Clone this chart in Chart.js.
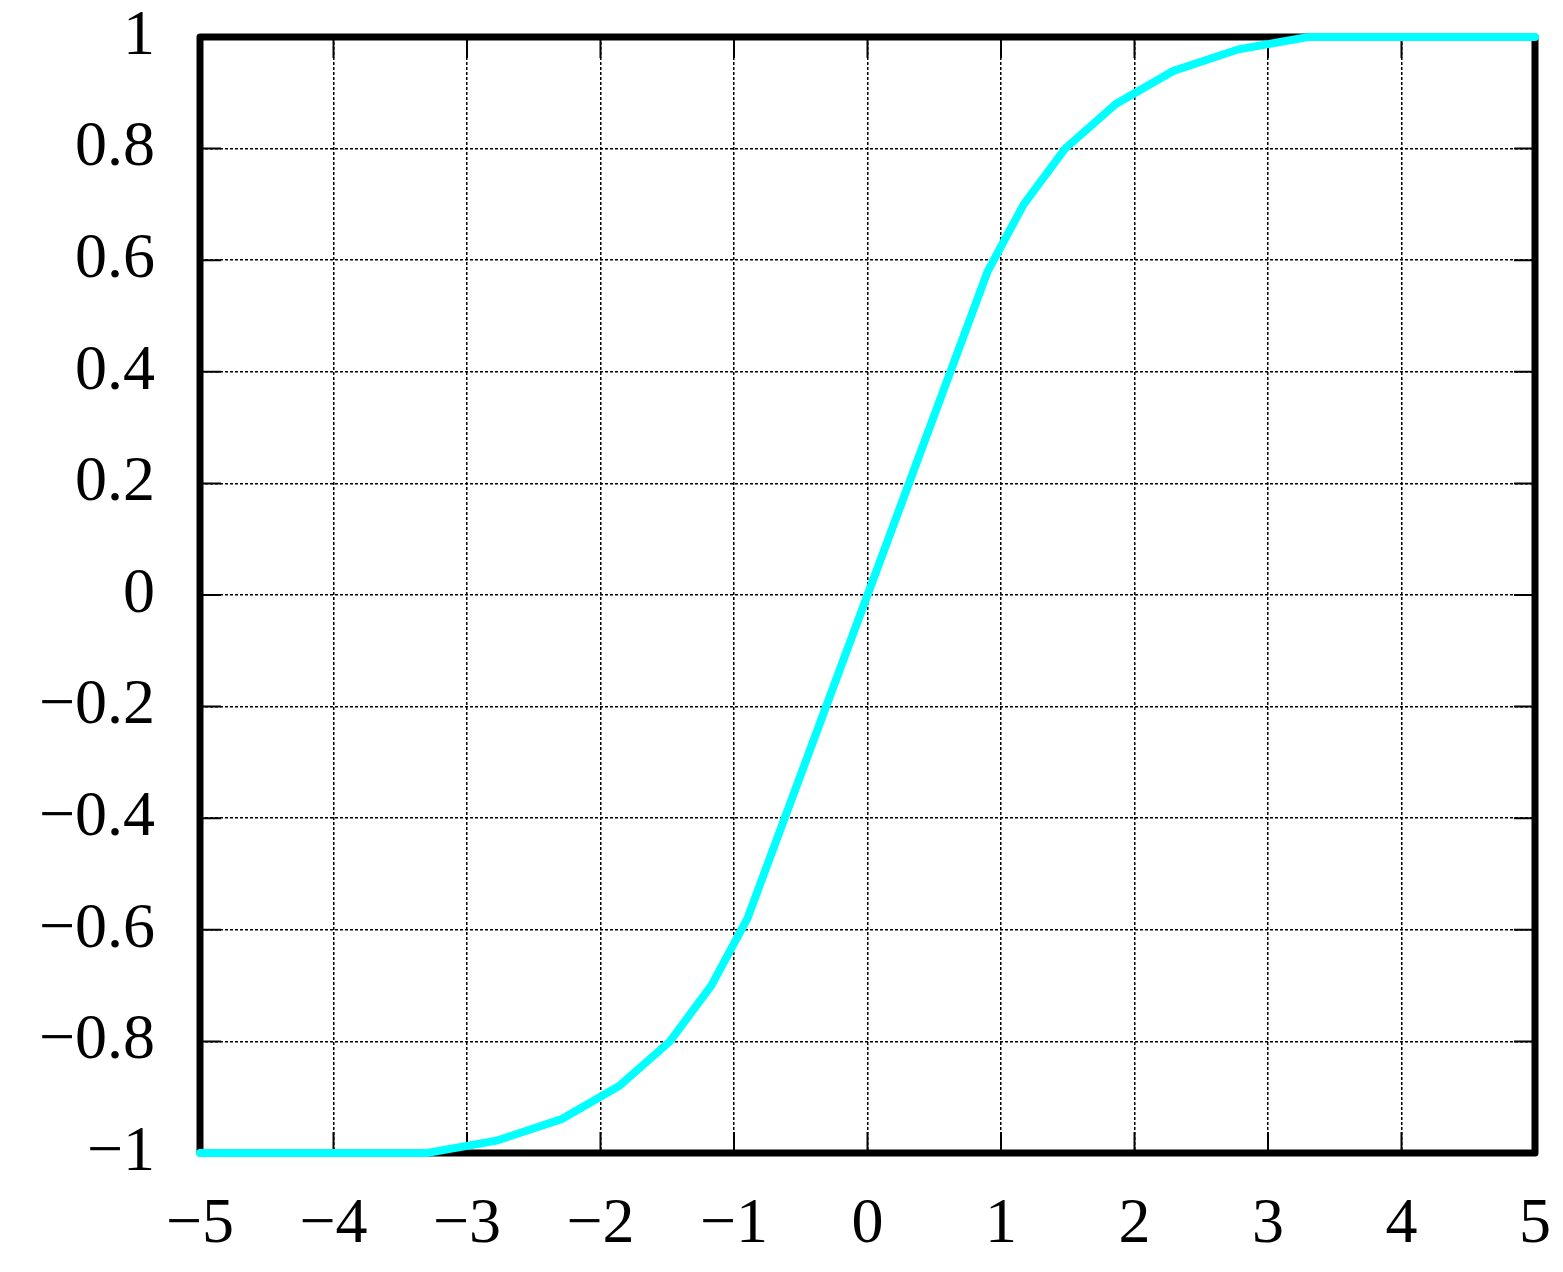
<!DOCTYPE html>
<html>
<head>
<meta charset="utf-8">
<script src="https://cdn.jsdelivr.net/npm/chart.js@4/dist/chart.umd.min.js"></script>
<style>
  html, body { margin: 0; padding: 0; background: #fff; }
  #wrap { width: 1563px; height: 1272px; }
</style>
</head>
<body>
<div id="wrap"><canvas id="grafico" width="1563" height="1272"></canvas></div>
<script>
// valores
const xValores = [-5, -3.3, -2.78, -2.29, -1.86, -1.48, -1.17, -0.9, 0, 0.9, 1.17, 1.48, 1.86, 2.29, 2.78, 3.3, 5];
const yValores = [-1, -1, -0.978, -0.939, -0.88, -0.8, -0.7, -0.58, 0, 0.58, 0.7, 0.8, 0.88, 0.939, 0.978, 1, 1];
const xTicks = [-5, -4, -3, -2, -1, 0, 1, 2, 3, 4, 5];
const yTicks = [-1, -0.8, -0.6, -0.4, -0.2, 0, 0.2, 0.4, 0.6, 0.8, 1];

function formato(v) {
    const s = String(Math.round(v * 10) / 10);
    return s.replace('-', '\u2212');
}

// marco negro y marcas hacia dentro
const marco = {
    id: 'marco',
    beforeDatasetsDraw(chart) {
        const { ctx, chartArea: a, scales } = chart;
        ctx.save();
        ctx.strokeStyle = '#000';
        ctx.lineWidth = 2;
        const largo = 21;
        xTicks.forEach(v => {
            const px = scales.x.getPixelForValue(v);
            ctx.beginPath();
            ctx.moveTo(px, a.top); ctx.lineTo(px, a.top + largo);
            ctx.moveTo(px, a.bottom); ctx.lineTo(px, a.bottom - largo);
            ctx.stroke();
        });
        yTicks.forEach(v => {
            const py = scales.y.getPixelForValue(v);
            ctx.beginPath();
            ctx.moveTo(a.left, py); ctx.lineTo(a.left + largo, py);
            ctx.moveTo(a.right, py); ctx.lineTo(a.right - largo, py);
            ctx.stroke();
        });
        ctx.lineWidth = 7;
        ctx.lineJoin = 'round';
        ctx.strokeRect(a.left, a.top, a.right - a.left, a.bottom - a.top);
        ctx.restore();
    }
};

const rejilla = {
    color: '#000',
    lineWidth: 1.5,
    drawTicks: false
};

const ctx = document.getElementById('grafico').getContext('2d');
new Chart(ctx, {
    type: 'line',
    data: {
        datasets: [{
            data: xValores.map((x, i) => ({ x: x, y: yValores[i] })),
            borderColor: '#00ffff',
            borderWidth: 8,
            borderCapStyle: 'round',
            pointRadius: 0,
            tension: 0,
            fill: false,
            clip: false
        }]
    },
    options: {
        responsive: false,
        animation: false,
        layout: { padding: { top: 37, right: 28, left: 0, bottom: 0 } },
        plugins: { legend: { display: false }, tooltip: { enabled: false } },
        scales: {
            x: {
                type: 'linear',
                min: -5, max: 5,
                afterBuildTicks: s => { s.ticks = xTicks.map(v => ({ value: v })); },
                afterFit: s => { s.height = 119; s.paddingLeft = 0; s.paddingRight = 0; },
                grid: rejilla,
                border: { display: false, dash: [3, 2] },
                ticks: {
                    callback: formato,
                    color: '#000',
                    padding: 40,
                    maxRotation: 0,
                    autoSkip: false,
                    font: { family: 'Liberation Serif', size: 64, lineHeight: 1 }
                }
            },
            y: {
                type: 'linear',
                min: -1, max: 1,
                afterBuildTicks: s => { s.ticks = yTicks.map(v => ({ value: v })); },
                afterFit: s => { s.width = 200; s.paddingTop = 0; s.paddingBottom = 0; },
                grid: rejilla,
                border: { display: false, dash: [3, 2] },
                ticks: {
                    callback: formato,
                    color: '#000',
                    padding: 45,
                    autoSkip: false,
                    font: { family: 'Liberation Serif', size: 64, lineHeight: 1 }
                }
            }
        }
    },
    plugins: [marco]
});
</script>
</body>
</html>
